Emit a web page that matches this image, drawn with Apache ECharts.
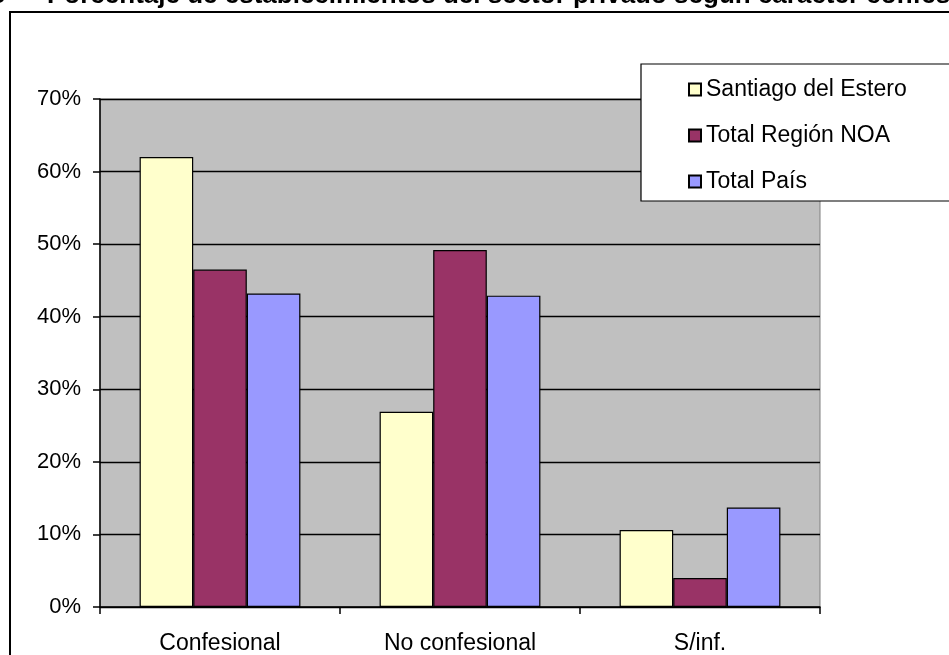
<!DOCTYPE html>
<html>
<head>
<meta charset="utf-8">
<script src="https://cdn.jsdelivr.net/npm/echarts@6/dist/echarts.min.js"></script>
<style>
  html, body { margin: 0; padding: 0; background: #fff; }
  #chart { width: 949px; height: 655px; }
</style>
</head>
<body>
<div id="chart"></div>
<script>
// categorias y series (porcentajes)
const categories = ['Confesional', 'No confesional', 'S/inf.']
const seriesNames = ['Santiago del Estero', 'Total Región NOA', 'Total País']
const santiago = [62.0, 26.9, 10.6]
const regionNOA = [46.5, 49.2, 4.0]
const totalPais = [43.2, 42.9, 13.7]
const yTicks = [0, 10, 20, 30, 40, 50, 60, 70]

const colors = ['#FFFFCC', '#993366', '#9999FF']
const font = 'Liberation Sans, Arial, sans-serif'
const titleFont = 'bold 26px Liberation Sans, Arial, sans-serif'

const chart = echarts.init(document.getElementById('chart'))

const barSeries = [santiago, regionNOA, totalPais].map((data, i) => ({
  name: seriesNames[i],
  type: 'bar',
  data: data,
  barGap: '0%',
  barCategoryGap: '33%',
  itemStyle: {
    color: colors[i],
    borderColor: '#000',
    borderWidth: 1.2
  }
}))

chart.setOption({
  animation: false,
  grid: {
    left: 100,
    right: 129,
    top: 99,
    bottom: 48,
    show: true,
    backgroundColor: '#C0C0C0',
    borderColor: '#808080',
    borderWidth: 1
  },
  legend: {
    left: 641,
    top: 64,
    orient: 'vertical',
    backgroundColor: '#fff',
    borderColor: '#000',
    borderWidth: 1.2,
    padding: [14, 60, 8, 47],
    itemGap: 23,
    itemWidth: 12,
    itemHeight: 12,
    icon: 'rect',
    textStyle: { fontFamily: font, fontSize: 23, color: '#000' },
    data: seriesNames
  },
  graphic: [
    // marco exterior
    {
      type: 'rect',
      z: -10,
      shape: { x: 10, y: 12, width: 1200, height: 1000 },
      style: { fill: null, stroke: '#000', lineWidth: 2 }
    },
    // titulo recortado arriba
    {
      type: 'text',
      left: -9,
      top: -17,
      style: { text: '5 –', font: titleFont, fill: '#000' }
    },
    {
      type: 'text',
      left: 47,
      top: -17,
      style: {
        text: 'Porcentaje de establecimientos del sector privado según carácter confesional',
        font: titleFont,
        fill: '#000'
      }
    }
  ],
  xAxis: {
    type: 'category',
    data: categories,
    axisLine: { show: true, lineStyle: { color: '#000', width: 1.5 } },
    axisTick: { show: true, length: 7, lineStyle: { color: '#000', width: 1.5 } },
    axisLabel: { fontFamily: font, fontSize: 23, color: '#000', margin: 25 },
    splitLine: { show: false }
  },
  yAxis: {
    type: 'value',
    min: yTicks[0],
    max: yTicks[yTicks.length - 1],
    interval: 10,
    axisLine: { show: true, lineStyle: { color: '#000', width: 1.5 } },
    axisTick: { show: true, length: 7, lineStyle: { color: '#000', width: 1.5 } },
    axisLabel: {
      fontFamily: font,
      fontSize: 22,
      color: '#000',
      margin: 19,
      formatter: '{value}%'
    },
    splitLine: { show: true, lineStyle: { color: '#000', width: 1.3 } }
  },
  series: barSeries
})
</script>
</body>
</html>
